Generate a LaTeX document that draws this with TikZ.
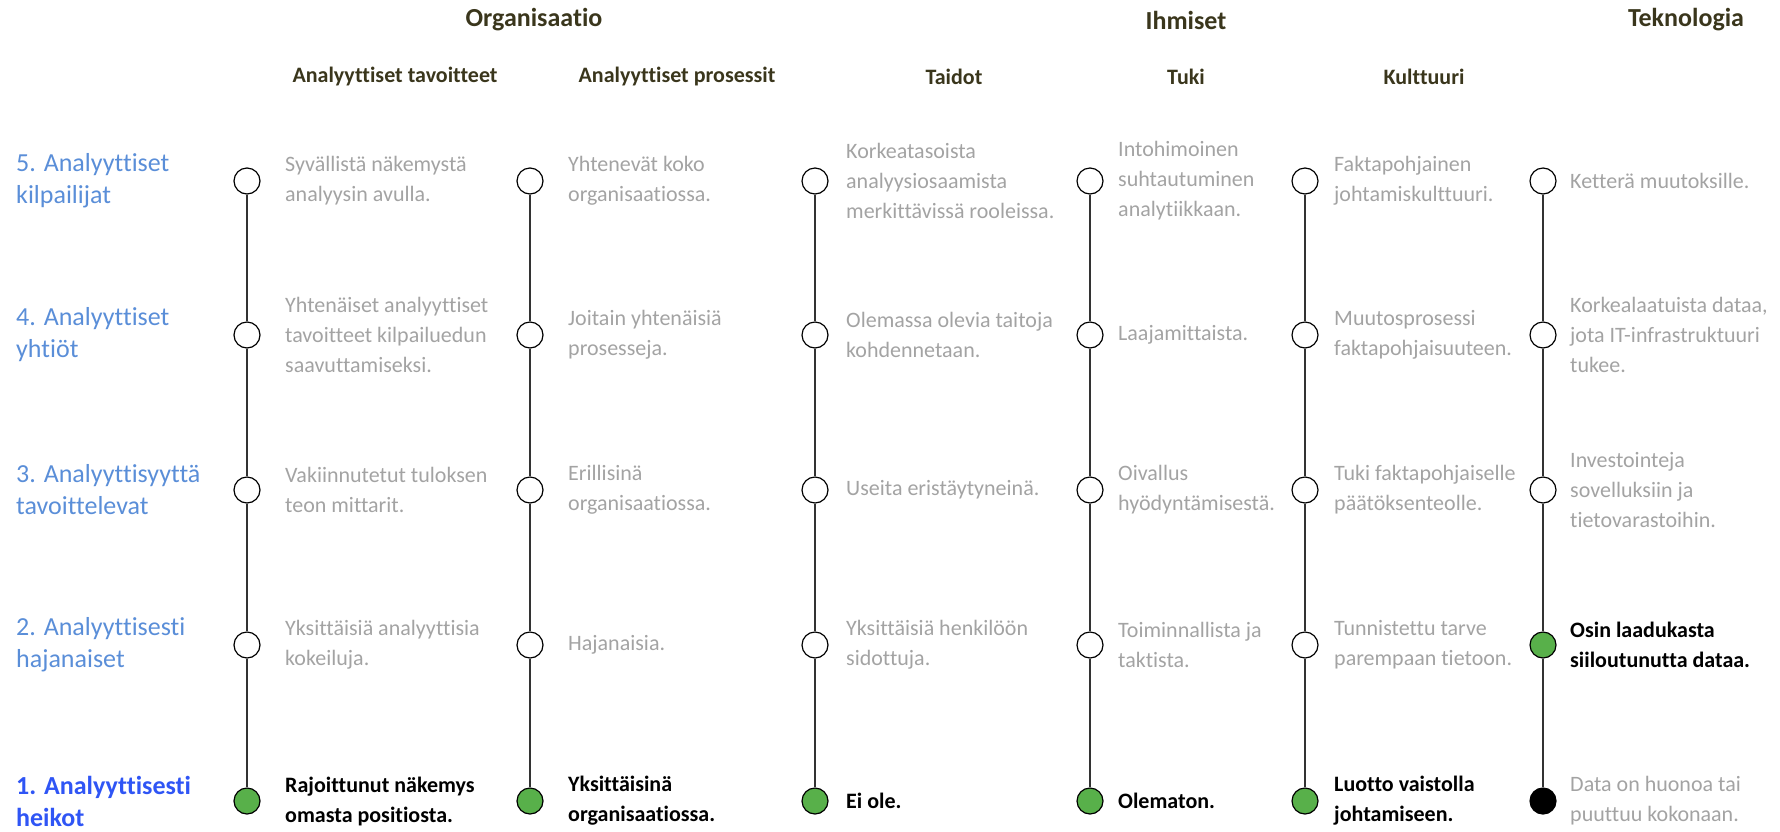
\documentclass[tikz,border=0pt]{standalone}
\usepackage{fontspec}
\setmainfont{Carlito}[Ligatures={NoCommon}]
\definecolor{graytxt}{HTML}{A3A3A3}
\definecolor{headtxt}{HTML}{3A361C}
\definecolor{lblue}{HTML}{5A8ED8}
\definecolor{dblue}{HTML}{2F55F5}
\definecolor{dotgreen}{HTML}{58B04A}
\definecolor{linegray}{HTML}{333333}
\tikzset{
  dot/.style={circle, draw=black, line width=1.2pt, fill=white, minimum size=26pt, inner sep=0pt},
  gdot/.style={dot, fill=dotgreen},
  bdot/.style={dot, fill=black},
  cell/.style={anchor=west, align=left, inner sep=0pt, text=graytxt, font=\fontsize{22}{30}\selectfont},
  bcell/.style={cell, text=black, font=\fontsize{22}{30}\selectfont\bfseries},
  lvl/.style={anchor=west, align=left, inner sep=0pt, text=lblue, font=\fontsize{26}{32}\selectfont},
  head/.style={inner sep=0pt, text=headtxt, font=\fontsize{26}{30}\selectfont\bfseries},
  subhead/.style={inner sep=0pt, text=headtxt, font=\fontsize{22}{26}\selectfont\bfseries},
  vline/.style={draw=linegray, line width=1.6pt}
}
\begin{document}
\begin{tikzpicture}[x=1pt,y=-1pt]
\useasboundingbox (0,0) rectangle (1780,831);
% headers
\node[head] (hO) at (534,20) {Organisaatio};
\node[head] (hI) at (1186,20) {Ihmiset};
\node[head] (hT) at (1686,20) {Teknologia};
\node[subhead] (s1) at (395,77) {Analyyttiset tavoitteet};
\node[subhead] (s2) at (677,77) {Analyyttiset prosessit};
\node[subhead] (s3) at (954,77) {Taidot};
\node[subhead] (s4) at (1186,77) {Tuki};
\node[subhead] (s5) at (1424,77) {Kulttuuri};
% level labels
\node[lvl] (l5) at (16,181) {5. Analyyttiset\\kilpailijat};
\node[lvl] (l4) at (16,335) {4. Analyyttiset\\yhtiöt};
\node[lvl] (l3) at (16,490) {3. Analyyttisyyttä\\tavoittelevat};
\node[lvl] (l2) at (16,645) {2. Analyyttisesti\\hajanaiset};
\node[lvl, text=dblue, font=\fontsize{26}{32}\selectfont\bfseries] (l1) at (16,801) {1. Analyyttisesti\\heikot};
% column 1
\node[dot] (a5) at (247,181) {};
\node[dot] (a4) at (247,335) {};
\node[dot] (a3) at (247,490) {};
\node[dot] (a2) at (247,645) {};
\node[gdot] (a1) at (247,801) {};
\draw[vline] (a5) -- (a4) (a4) -- (a3) (a3) -- (a2) (a2) -- (a1);
\node[cell] (ta5) at (285,181) {Syvällistä näkemystä\\analyysin avulla.};
\node[cell] (ta4) at (285,335) {Yhtenäiset analyyttiset\\tavoitteet kilpailuedun\\saavuttamiseksi.};
\node[cell] (ta3) at (285,490) {Vakiinnutetut tuloksen\\teon mittarit.};
\node[cell] (ta2) at (285,645) {Yksittäisiä analyyttisia\\kokeiluja.};
\node[bcell] (ta1) at (285,801) {Rajoittunut näkemys\\omasta positiosta.};
% column 2
\node[dot] (b5) at (530,181) {};
\node[dot] (b4) at (530,335) {};
\node[dot] (b3) at (530,490) {};
\node[dot] (b2) at (530,645) {};
\node[gdot] (b1) at (530,801) {};
\draw[vline] (b5) -- (b4) (b4) -- (b3) (b3) -- (b2) (b2) -- (b1);
\node[cell] (tb5) at (568,181) {Yhtenevät koko\\organisaatiossa.};
\node[cell] (tb4) at (568,335) {Joitain yhtenäisiä\\prosesseja.};
\node[cell] (tb3) at (568,490) {Erillisinä\\organisaatiossa.};
\node[cell] (tb2) at (568,645) {Hajanaisia.};
\node[bcell] (tb1) at (568,801) {Yksittäisinä\\organisaatiossa.};
% column 3
\node[dot] (c5) at (815,181) {};
\node[dot] (c4) at (815,335) {};
\node[dot] (c3) at (815,490) {};
\node[dot] (c2) at (815,645) {};
\node[gdot] (c1) at (815,801) {};
\draw[vline] (c5) -- (c4) (c4) -- (c3) (c3) -- (c2) (c2) -- (c1);
\node[cell] (tc5) at (846,181) {Korkeatasoista\\analyysiosaamista\\merkittävissä rooleissa.};
\node[cell] (tc4) at (846,335) {Olemassa olevia taitoja\\kohdennetaan.};
\node[cell] (tc3) at (846,490) {Useita eristäytyneinä.};
\node[cell] (tc2) at (846,645) {Yksittäisiä henkilöön\\sidottuja.};
\node[bcell] (tc1) at (846,801) {Ei ole.};
% column 4
\node[dot] (d5) at (1090,181) {};
\node[dot] (d4) at (1090,335) {};
\node[dot] (d3) at (1090,490) {};
\node[dot] (d2) at (1090,645) {};
\node[gdot] (d1) at (1090,801) {};
\draw[vline] (d5) -- (d4) (d4) -- (d3) (d3) -- (d2) (d2) -- (d1);
\node[cell] (td5) at (1118,181) {Intohimoinen\\suhtautuminen\\analytiikkaan.};
\node[cell] (td4) at (1118,335) {Laajamittaista.};
\node[cell] (td3) at (1118,490) {Oivallus\\hyödyntämisestä.};
\node[cell] (td2) at (1118,645) {Toiminnallista ja\\taktista.};
\node[bcell] (td1) at (1118,801) {Olematon.};
% column 5
\node[dot] (e5) at (1305,181) {};
\node[dot] (e4) at (1305,335) {};
\node[dot] (e3) at (1305,490) {};
\node[dot] (e2) at (1305,645) {};
\node[gdot] (e1) at (1305,801) {};
\draw[vline] (e5) -- (e4) (e4) -- (e3) (e3) -- (e2) (e2) -- (e1);
\node[cell] (te5) at (1334,181) {Faktapohjainen\\johtamiskulttuuri.};
\node[cell] (te4) at (1334,335) {Muutosprosessi\\faktapohjaisuuteen.};
\node[cell] (te3) at (1334,490) {Tuki faktapohjaiselle\\päätöksenteolle.};
\node[cell] (te2) at (1334,645) {Tunnistettu tarve\\parempaan tietoon.};
\node[bcell] (te1) at (1334,801) {Luotto vaistolla\\johtamiseen.};
% column 6
\node[dot] (f5) at (1543,181) {};
\node[dot] (f4) at (1543,335) {};
\node[dot] (f3) at (1543,490) {};
\node[gdot] (f2) at (1543,645) {};
\node[bdot] (f1) at (1543,801) {};
\draw[vline] (f5) -- (f4) (f4) -- (f3) (f3) -- (f2) (f2) -- (f1);
\node[cell] (tf5) at (1570,181) {Ketterä muutoksille.};
\node[cell] (tf4) at (1570,335) {Korkealaatuista dataa,\\jota IT-infrastruktuuri\\tukee.};
\node[cell] (tf3) at (1570,490) {Investointeja\\sovelluksiin ja\\tietovarastoihin.};
\node[bcell] (tf2) at (1570,645) {Osin laadukasta\\siiloutunutta dataa.};
\node[cell] (tf1) at (1570,801) {Data on huonoa tai\\puuttuu kokonaan.};
\end{tikzpicture}
\end{document}
